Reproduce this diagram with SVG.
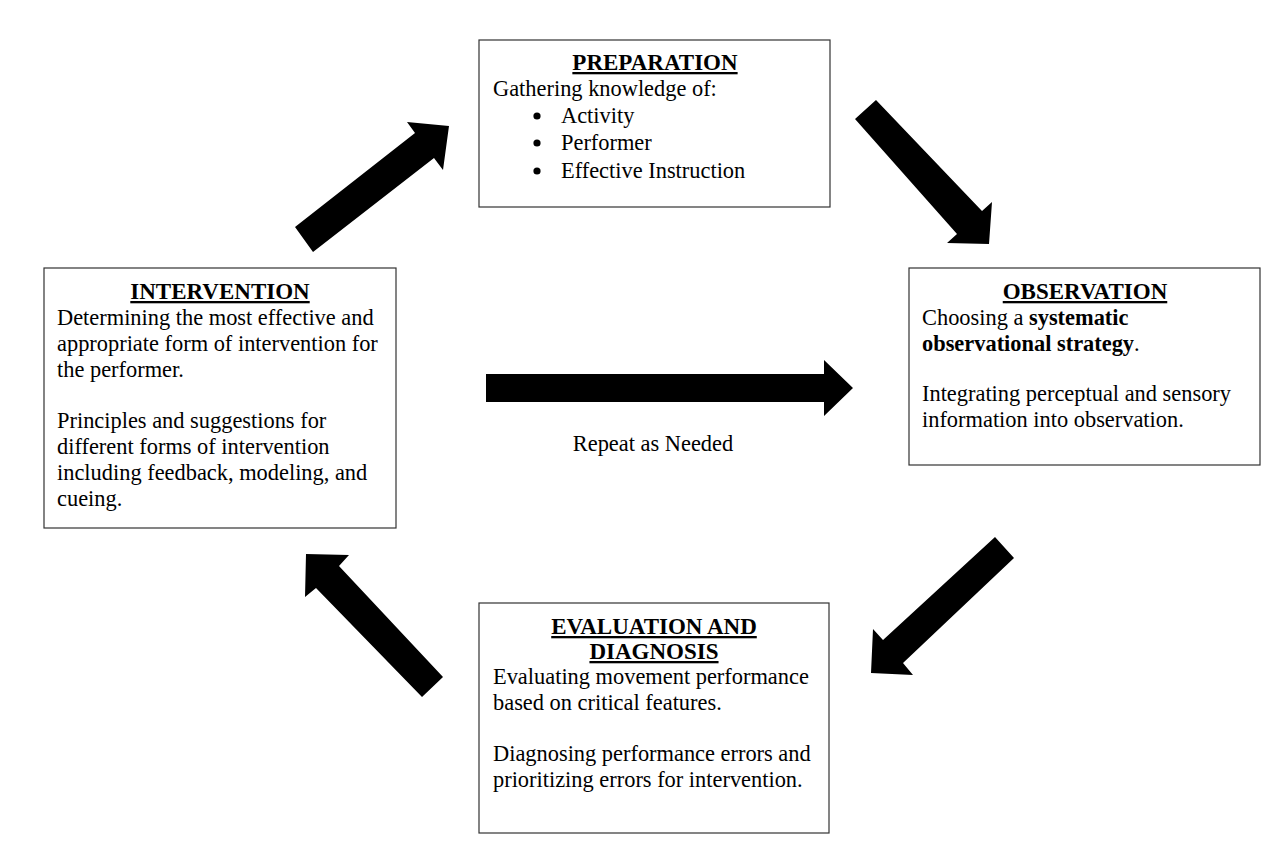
<svg xmlns="http://www.w3.org/2000/svg" width="1283" height="863" viewBox="0 0 1283 863">
<style>
.box{fill:#fff;stroke:#333;stroke-width:1.2}
text{font-family:"Liberation Serif","Times New Roman",serif;font-size:22.4px;fill:#000}
.t{font-weight:bold;font-size:23px;text-decoration:underline;text-anchor:middle}
.b{font-weight:bold}
.arr{fill:#000}
.dot{fill:#000}
</style>
<rect width="1283" height="863" fill="#fff"/>
<g id="connectors">
<polygon class="arr" points="295,227 313,252 434,158 443,170 449,126 407,122 415,133"/>
<polygon class="arr" points="855,119 876,100 982,211 992,202 989,244 947,243 957,234"/>
<polygon class="arr" points="995,537 1014,558 903,663 913,675 871,673 873,629 883,640"/>
<polygon class="arr" points="443,677 422,697 316,588 305,597 306,554 349,555 339,566"/>
<polygon class="arr" points="486,374 824,374 824,360 853,388 824,416 824,402 486,402"/>
<text x="653" y="451" text-anchor="middle">Repeat as Needed</text>
</g>
<g id="preparation">
<rect class="box" x="479" y="40" width="351" height="167"/>
<text class="t" x="655" y="70">PREPARATION</text>
<text x="493" y="96">Gathering knowledge of:</text>
<circle class="dot" cx="537" cy="116" r="3.6"/><text x="561" y="123">Activity</text>
<circle class="dot" cx="537" cy="143" r="3.6"/><text x="561" y="150">Performer</text>
<circle class="dot" cx="537" cy="171" r="3.6"/><text x="561" y="178">Effective Instruction</text>
</g>
<g id="observation">
<rect class="box" x="909" y="268" width="351" height="197"/>
<text class="t" x="1085" y="299">OBSERVATION</text>
<text x="922" y="325">Choosing a <tspan class="b">systematic</tspan></text>
<text x="922" y="351"><tspan class="b">observational strategy</tspan>.</text>
<text x="922" y="401">Integrating perceptual and sensory</text>
<text x="922" y="427">information into observation.</text>
</g>
<g id="evaluation">
<rect class="box" x="479" y="603" width="350" height="230"/>
<text class="t" x="654" y="634">EVALUATION AND</text>
<text class="t" x="654" y="659">DIAGNOSIS</text>
<text x="493" y="684">Evaluating movement performance</text>
<text x="493" y="710">based on critical features.</text>
<text x="493" y="761">Diagnosing performance errors and</text>
<text x="493" y="787">prioritizing errors for intervention.</text>
</g>
<g id="intervention">
<rect class="box" x="44" y="268" width="352" height="260"/>
<text class="t" x="220" y="299">INTERVENTION</text>
<text x="57" y="325">Determining the most effective and</text>
<text x="57" y="351">appropriate form of intervention for</text>
<text x="57" y="377">the performer.</text>
<text x="57" y="428">Principles and suggestions for</text>
<text x="57" y="454">different forms of intervention</text>
<text x="57" y="480">including feedback, modeling, and</text>
<text x="57" y="506">cueing.</text>
</g>
</svg>
